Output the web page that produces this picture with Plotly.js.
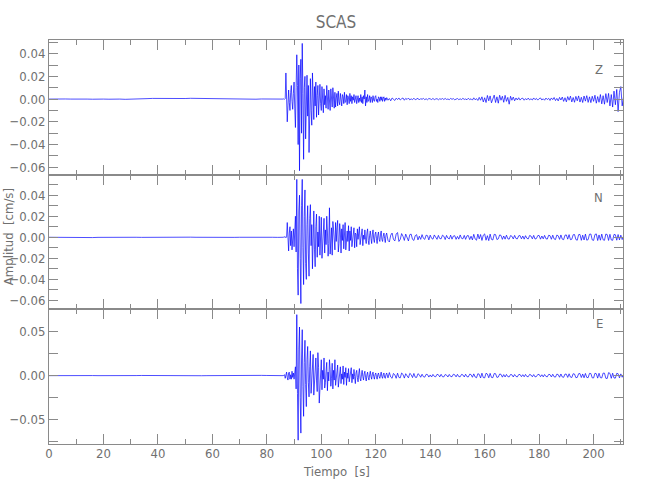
<!DOCTYPE html>
<html>
<head>
<meta charset="utf-8">
<script src="https://cdn.plot.ly/plotly-3.0.1.min.js"></script>
<style>html,body{margin:0;padding:0;background:#fff;}#chart{width:650px;height:500px;}</style>
</head>
<body>
<div id="chart"></div>
<script>
// Station and component names
const stationName = "SCAS";
const components = ["Z", "N", "E"];

// Sampling of the three record segments (start time and interval, s)
const preStart = 0, preStep = 2;          // 0 .. 86 s
const eventStart = 86, eventStep = 0.25;  // 86 .. 124 s
const codaStart = 124, codaStep = 0.5;    // 124 .. 211 s

// All amplitudes below are in units of 0.001 cm/s
const unit = 0.001;

// ---- Z component ----
const zPre = [
  0, 0.2, -0.1, 0.1, 0, -0.2, 0.1, 0, -0.1, 0.2,
  0, -0.1, 0.1, 0, -0.2, 0.1, 0.3, 0.2, 0.4, 0.6,
  0.5, 0.3, 0.2, 0.4, 0.3, 0.5, 0.7, 0.6, 0.4, 0.5,
  0.8, 0.6, 0.4, 0.2, 0.1, -0.1, 0.2, 0, -0.1, 0.1,
  0, -0.2, 0.1, 0
];
const zEvent = [
  0, 0.3, -0.2, 0.4, 23, 4, -20, -6,
  8, -3, -10, 6, 12, -2, -9, 5,
  15, -8, -25, 10, 39, 12, -40, 30,
  -63, 18, 35, -30, 49, 5, -53, 10,
  20, -35, 8, 21, -15, 12, -47, 6,
  18, -10, -23, 23, 4, -18, 11, -6,
  15, -16, 3, 12, -14, 7, 13, -4,
  -10, 11, 2, -12, 9, -5, 3, -8,
  12, -3, -9, 8, 2, -10, 9, -4,
  -7, 10, 3, -8, 6, -7, 1, 5,
  -6, 7, -2, -5, 5, 0, -6, 4,
  2, -4, 6, -3, -2, 4, -5, 3,
  1, -4, 5, -2, 3, -4, 2, -1,
  4, -3, -1, 3, -4, 2, 3, -3,
  1, -2, 4, -3, 2, -4, 3, 0,
  8, -6, 2, -3, 4, -2, -1, 3,
  -3, 2, 1, -3, 3, -1, -2, 2,
  3, -2, 0, -3, 2, 1, -2, 2,
  -1, 2, -2, 1, 2, -2, 1, -1,
  1
];
const zCoda = [
  1.5, -1, 0.5, -1.5, 1, 0.2, -1.2, 0.8, -0.4, 1,
  -0.8, 0.3, 1, -1, 0.6, -0.3, 0.9, -0.7, 0.2, -0.5,
  0.8, -0.6, 0.1, 0.7, -0.8, 0.4, -0.2, 0.6, -0.5, 0.3,
  -0.6, 0.5, 0.2, -0.4, 0.6, -0.5, 0.1, 0.4, -0.6, 0.3,
  -0.2, 0.5, -0.4, 0.6, -0.3, 0.1, -0.5, 0.6, -0.2, 0.4,
  -0.6, 0.3, 0.5, -0.5, 0.2, -0.4, 0.7, -0.3, 0.1, -0.6,
  0.8, -0.5, 0.3, -0.9, 1.1, -0.6, 0.4, -1.2, 1.5, -1,
  2, -2.5, 1.2, -3, 3.2, -1.5, 2.8, -3.3, 1, 3.5,
  -3, 2, -3.6, 3.4, -1, 2.5, -2.8, 3.3, -2, 1.5,
  -4.5, 2.5, -1, 1.8, -1.5, 1, -0.8, 1.2, -0.9, 0.5,
  0.8, -1, 0.4, -0.6, 0.9, -0.7, 0.3, -0.8, 1, -0.5,
  0.6, -0.9, 0.4, 1, -0.8, 0.3, -1, 0.9, -0.4, 0.7,
  -1.2, 1, -0.5, 1.4, -1.3, 0.6, -1.6, 1.5, -0.8, 1.8,
  -2, 1.2, -2.4, 2.2, -1, 2.6, -2.5, 1.4, -2.8, 2.4,
  -1.5, 2.8, -2.6, 1.6, -3, 2.7, -1.8, 3, -2.9, 2,
  -3.1, 2.5, -2, 3.4, -3.6, 2.2, -2.8, 4, -4.2, 3,
  -4.5, 4.8, -3, 5, -6, 4, -7, 7, -5, 8.5,
  -11, 6, 11, -6, 2
];

// ---- N component ----
const nPre = [
  0, -0.1, 0, -0.2, -0.4, -0.5, -0.6, -0.4, -0.3, -0.1,
  0, 0.1, 0, -0.1, 0, 0.1, 0, -0.1, 0, 0.1,
  0, -0.1, 0.1, 0, -0.1, 0, 0.1, 0, -0.1, 0,
  0.1, 0.2, 0.1, 0, -0.1, 0, 0.1, 0, -0.1, 0,
  0.1, 0, -0.1, 0
];
const nEvent = [
  0, 0.2, -0.3, 0.5, -0.5, 0.3, 14, -6,
  -13, 4, 10, -8, 6, -12, 3, 8,
  -9, 5, 20, -14, 55, -30, -55, 25,
  40, -20, -63, 30, 55, -10, -45, 20,
  45, -25, -40, 12, 30, -15, -37, 18,
  31, -8, 12, -30, 15, 25, -12, -28,
  10, 22, -19, 5, -9, 20, -17, 6,
  19, -20, -4, 10, 18, -15, 7, -7,
  20, 6, -18, -6, 28, -16, 3, 9,
  -17, 15, 7, -5, -12, 14, -4, 9,
  16, -14, -6, 13, 5, -15, 8, -3,
  12, -11, 4, 14, -12, -5, 6, -4,
  11, -13, 6, -3, 10, -9, -2, 5,
  9, -10, 4, 3, -9, 8, -2, 5,
  10, -7, -3, 4, 8, -8, 2, -2,
  7, -2, -6, 4, 8, -3, -7, 2,
  6, -1, -6, 3, 7, -2, -5, 3,
  5, -1, -6, 2, 5, -2, -4, 3,
  6, -2, -4, 1, 4, -1, -5, 2,
  4
];
const nCoda = [
  4, -3, -4.5, 2, 4, -2, -3.5, 3, 4.5, -4,
  -2, 3.5, 1, -3, 3, -1.5, -3.5, 2.5, 3, -2,
  -3, 1.5, 2.5, -2.5, 1, -2, 2.5, -1, -2, 2,
  1.5, -2.5, 2, -1, -1.8, 2.2, 0.5, -2, 1.8, -1.2,
  -1.5, 2, 1, -2.2, 1.8, -0.8, -1.6, 2, -1.8, 1.2,
  1.5, -2, 0.8, -1.8, 2.2, -1, -1.5, 1.8, -2, 1.4,
  1.6, -2.2, 1, -2.5, 2.8, -1.6, -2.8, 3, -1.5, 2.6,
  -3, 2, 3.2, -2.8, 1.5, -3.2, 3, -2, -2.6, 2.8,
  2.5, -2.2, -1.5, 2.2, 1.8, -2, 1.2, -1.8, 2, -1.4,
  -1.8, 1.6, 1, -1.6, 1.8, -1.2, -1.5, 1.4, 1.6, -1.5,
  1.2, -1.8, 1.5, -1, -1.6, 1.7, 1.2, -1.5, 1.8, -1.7,
  -1.2, 1.6, 1.7, -1.8, 1.2, -1.5, 1.8, -1.4, -1.7, 1.9,
  1.5, -1.9, 2, -1.6, -2.2, 2.1, 1.4, -2, 2.2, -1.8,
  -2.3, 2, 2.2, -1.8, 2.5, -2.3, -1.9, 2.4, 2.6, -2.2,
  -2.8, 2.5, 2.7, -2.9, 2, -2.6, 3, -2.8, -2.2, 2.9,
  3.1, -2.5, -3, 2.6, 3.2, -3.1, 2.2, -2.8, 3, -2.4,
  -2.9, 3.1, 2.5, -3, 2.8, -2.6, -2.9, 2.7, 2.4, -2.8,
  2.6, -2.5, 2, -2.2, 1
];

// ---- E component ----
const ePre = [
  0, 0.1, 0, -0.1, 0.1, 0, 0.1, 0.2, 0.1, 0,
  -0.1, 0, 0.1, 0, -0.1, 0, 0.1, 0.2, 0.1, 0,
  0.1, 0, -0.1, 0, 0.1, 0, 0.1, 0, -0.1, 0,
  0.1, 0, 0.2, 0.1, 0, -0.1, 0, 0.1, 0.2, 0.3,
  0.2, 0.1, 0, 0
];
const eEvent = [
  0, 0.5, 1, -3, 2, 4, -2, -5,
  3, 4, -4, 1, -4, 5, -2, 3,
  -4, 2, 10, -15, 69, -20, -73, 30,
  55, -25, -65, 20, 52, -12, -46, 15,
  40, -10, -35, 18, 33, -8, -24, 10,
  28, -20, -6, 12, 24, -22, -9, 8,
  20, -5, -18, 26, 9, -31, -10, 12,
  18, -16, 6, -4, 20, -14, -8, 5,
  15, -17, 4, -6, 18, 7, -12, -3,
  14, -15, 6, -5, 18, -11, -4, 3,
  12, -13, -3, 5, 10, -9, 2, -4,
  11, -10, 4, -2, 9, -11, 3, -3,
  8, -7, -2, 3, 9, -8, 2, -4,
  7, -1, -9, 3, 6, -2, -7, 2,
  8, -3, -6, 1, 6, -1, -5, 2,
  5, -2, -6, 1, 4, -2, -5, 1,
  5, -1, -4, 2, 4, -1, -4, 1,
  3, -1, -4, 1, 3, -1, -3, 1,
  4, -1, -3, 1, 3, -2, -3, 1,
  3
];
const eCoda = [
  3, -2.5, 3.5, -1.5, -3, 2.5, 1, -3, 2.8, -2,
  -2.5, 3, 1.5, -2.8, 2.2, -1, -2.5, 2.6, 1.2, -2.2,
  2.5, -1.8, -2, 2.2, 1, -1.8, 1.6, -1.2, -1.7, 1.5,
  1.2, -1.6, 0.8, -1.5, 1.4, -0.8, -1.3, 1.5, 1, -1.4,
  1.5, -1.2, -1.4, 1.3, 0.6, -1.5, 1.4, -0.9, -1.2, 1.6,
  1, -1.4, 1.5, -1.1, -1.3, 1.4, 0.9, -1.5, 1.6, -1.2,
  -1.4, 1.7, 1.2, -1.8, 2, -1.5, -2.4, 2.2, 1.5, -2.6,
  2.8, -2.2, -2.5, 2.7, 1.8, -2.4, 2.6, -2, -2.3, 2.4,
  2.2, -2, -1.6, 1.8, 1.5, -1.7, 1.2, -1.5, 1.4, -1.1,
  -1.4, 1.3, 1, -1.5, 1.3, -0.9, -1.4, 1.2, 1.3, -1.2,
  1.1, -1.3, 1.4, -1, -1.2, 1.4, 0.8, -1.3, 1.2, -1.4,
  -1, 1.3, 1.4, -1.2, 1, -1.4, 1.3, -0.9, -1.3, 1.4,
  1.2, -1.5, 1.6, -1.3, -1.6, 1.7, 1.2, -1.8, 1.9, -1.5,
  -1.9, 1.8, 1.6, -2, 2.1, -1.6, -2.1, 2.2, 1.8, -2.3,
  -2, 2.2, 2.4, -2.1, 1.9, -2.4, 2.5, -2, -2.3, 2.6,
  2.4, -2.5, -2.6, 2.7, 2.2, -2.8, 2.7, -2.3, -2.6, 2.9,
  2.8, -3, -3.2, 3.4, 2.6, -3, 2.8, -2.6, -2.8, 2.6,
  2.2, -2.5, 2, -1.8, 1
];

const series = [
  {pre: zPre, ev: zEvent, coda: zCoda},
  {pre: nPre, ev: nEvent, coda: nCoda},
  {pre: ePre, ev: eEvent, coda: eCoda}
];

const lineStyle = {color: "#0000ff", width: 0.7};
const traces = [];
series.forEach((s, k) => {
  const xa = k === 0 ? "x" : "x" + (k + 1);
  const ya = k === 0 ? "y" : "y" + (k + 1);
  [[s.pre, preStart, preStep], [s.ev, eventStart, eventStep], [s.coda, codaStart, codaStep]].forEach(seg => {
    traces.push({
      type: "scatter", mode: "lines",
      y: seg[0].map(v => v * unit), x0: seg[1], dx: seg[2],
      xaxis: xa, yaxis: ya, line: lineStyle, hoverinfo: "skip", showlegend: false
    });
  });
});

const fontFam = "'DejaVu Sans Condensed', 'Liberation Sans Narrow', 'DejaVu Sans', sans-serif";
const gray = "#8a8a8a";
const textGray = "#707070";

function xAxis(anchor, labels) {
  return {
    anchor: anchor, domain: [0, 1], range: [0, 210.8],
    showgrid: false, zeroline: false, showline: true, linecolor: gray, linewidth: 1,
    mirror: "allticks", ticks: "inside", ticklen: 10, tickcolor: gray, tickwidth: 1,
    dtick: 20, tick0: 0, showticklabels: labels, ticklabelstandoff: -3,
    tickfont: {family: fontFam, size: 13, color: textGray},
    minor: {ticks: "inside", ticklen: 5, tickcolor: gray, dtick: 10, showgrid: false}
  };
}
function yAxis(anchor, domain, range, dtick, minorDtick, fmt) {
  return {
    anchor: anchor, domain: domain, range: range,
    showgrid: false, zeroline: false, showline: true, linecolor: gray, linewidth: 1,
    mirror: "allticks", ticks: "inside", ticklen: 9, tickcolor: gray, tickwidth: 1,
    dtick: dtick, tick0: 0, tickformat: fmt,
    tickfont: {family: fontFam, size: 13, color: textGray},
    minor: {ticks: "inside", ticklen: 9, tickcolor: gray, dtick: minorDtick, showgrid: false}
  };
}

const labelFont = {family: fontFam, size: 13, color: textGray};
const layout = {
  width: 650, height: 500,
  margin: {l: 49, r: 27, t: 40, b: 56},
  paper_bgcolor: "#fff", plot_bgcolor: "#fff",
  showlegend: false,
  title: {text: stationName, x: 0.5, xref: "paper", y: 0.956, yref: "container", yanchor: "middle",
          font: {family: fontFam, size: 17, color: textGray}},
  xaxis: xAxis("y", false),
  xaxis2: xAxis("y2", false),
  xaxis3: xAxis("y3", true),
  yaxis: yAxis("x", [2/3, 1], [-0.0665, 0.052], 0.02, 0.01, ".2f"),
  yaxis2: yAxis("x2", [1/3, 2/3], [-0.0685, 0.0595], 0.02, 0.01, ".2f"),
  yaxis3: yAxis("x3", [0, 1/3], [-0.0773, 0.075], 0.05, 0.025, ".2f"),
  annotations: [
    {text: components[0], xref: "paper", yref: "paper", x: 0.969, y: 0.950, showarrow: false, font: labelFont},
    {text: components[1], xref: "paper", yref: "paper", x: 0.969, y: 0.611, showarrow: false, font: labelFont},
    {text: components[2], xref: "paper", yref: "paper", x: 0.969, y: 0.275, showarrow: false, font: labelFont},
    {text: "Amplitud  [cm/s]", xref: "paper", yref: "paper", x: -0.0714, y: 0.512, textangle: -90,
     showarrow: false, xanchor: "center", yanchor: "middle", font: labelFont},
    {text: "Tiempo  [s]", xref: "paper", yref: "paper", x: 0.500, y: -0.0693,
     showarrow: false, xanchor: "center", yanchor: "middle", font: labelFont}
  ]
};

Plotly.newPlot("chart", traces, layout, {displayModeBar: false, staticPlot: true});
</script>
</body>
</html>
